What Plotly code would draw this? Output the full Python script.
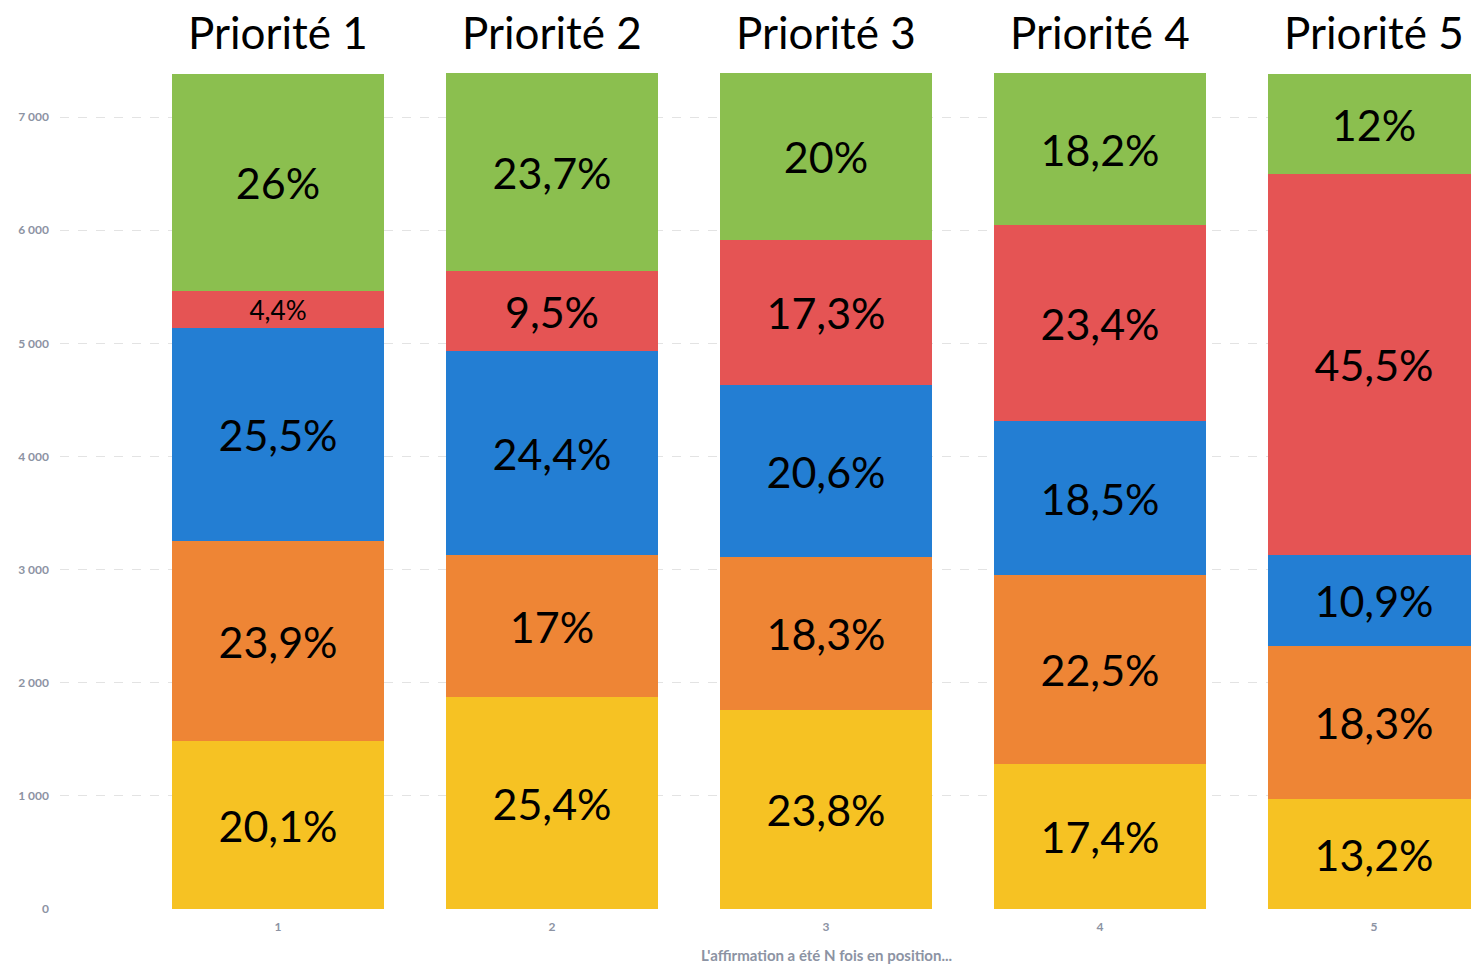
import plotly.graph_objects as go

positions = [1, 2, 3, 4, 5]
tick_labels = ["1", "2", "3", "4", "5"]
titles = ["Priorité 1", "Priorité 2", "Priorité 3", "Priorité 4", "Priorité 5"]
x_title = "L'affirmation a été N fois en position..."

# counts per segment (bottom to top)
yellow_vals = [1485, 1877, 1759, 1286, 975]
orange_vals = [1766, 1256, 1352, 1663, 1352]
blue_vals = [1884, 1803, 1522, 1367, 806]
red_vals = [325, 702, 1278, 1729, 3362]
green_vals = [1921, 1751, 1478, 1345, 887]

yellow_lbl = ["20,1%", "25,4%", "23,8%", "17,4%", "13,2%"]
orange_lbl = ["23,9%", "17%", "18,3%", "22,5%", "18,3%"]
blue_lbl = ["25,5%", "24,4%", "20,6%", "18,5%", "10,9%"]
red_lbl = ["4,4%", "9,5%", "17,3%", "23,4%", "45,5%"]
green_lbl = ["26%", "23,7%", "20%", "18,2%", "12%"]

series = [
    (yellow_vals, yellow_lbl, "#F6C223"),
    (orange_vals, orange_lbl, "#EE8535"),
    (blue_vals, blue_lbl, "#237ED3"),
    (red_vals, red_lbl, "#E55454"),
    (green_vals, green_lbl, "#8BBF4F"),
]

fig = go.Figure()
for vals, lbls, col in series:
    fig.add_trace(go.Bar(
        x=positions, y=vals, text=lbls, texttemplate="%{text}",
        textposition="inside", insidetextanchor="middle", textangle=0,
        textfont=dict(family="Lato", size=43, color="black"),
        marker=dict(color=col, line=dict(width=0)),
        width=0.774, showlegend=False, hoverinfo="skip",
    ))

for p, t in zip(positions, titles):
    fig.add_annotation(x=p, y=1, xref="x", yref="paper", yanchor="bottom", yshift=13,
                       text=t, showarrow=False,
                       font=dict(family="Lato", size=44, color="black"))

fig.add_annotation(x=3, y=0, xref="x", yref="paper", yanchor="top", yshift=-35,
                   text=x_title, showarrow=False,
                   font=dict(family="Lato", size=15, color="#8C93A3", weight="bold"))

fig.update_layout(
    barmode="stack",
    width=1471, height=964,
    margin=dict(l=60, r=0, t=73, b=55),
    paper_bgcolor="white", plot_bgcolor="white",
    bargap=0,
)
fig.update_xaxes(
    range=[0.2044, 5.354], tickvals=positions, ticktext=tick_labels,
    showgrid=False, zeroline=False, showline=False, automargin=False,
    tickfont=dict(family="Lato", size=12, color="#8C93A3", weight="bold"),
    ticks="", ticklabelstandoff=9,
)
fig.update_yaxes(
    range=[0, 7390], tickvals=[0, 1000, 2000, 3000, 4000, 5000, 6000, 7000],
    ticktext=["0", "1 000", "2 000", "3 000", "4 000", "5 000", "6 000", "7 000"],
    showgrid=True, gridcolor="#E3E3E3", griddash="dash", gridwidth=1,
    zeroline=False, showline=False, automargin=False,
    tickfont=dict(family="Lato", size=12, color="#8C93A3", weight="bold"),
    ticks="", ticklabelstandoff=10,
)

fig.write_html("out.html", config={"displayModeBar": False},
               post_script="document.body.style.margin='0';document.body.style.overflow='hidden';")
